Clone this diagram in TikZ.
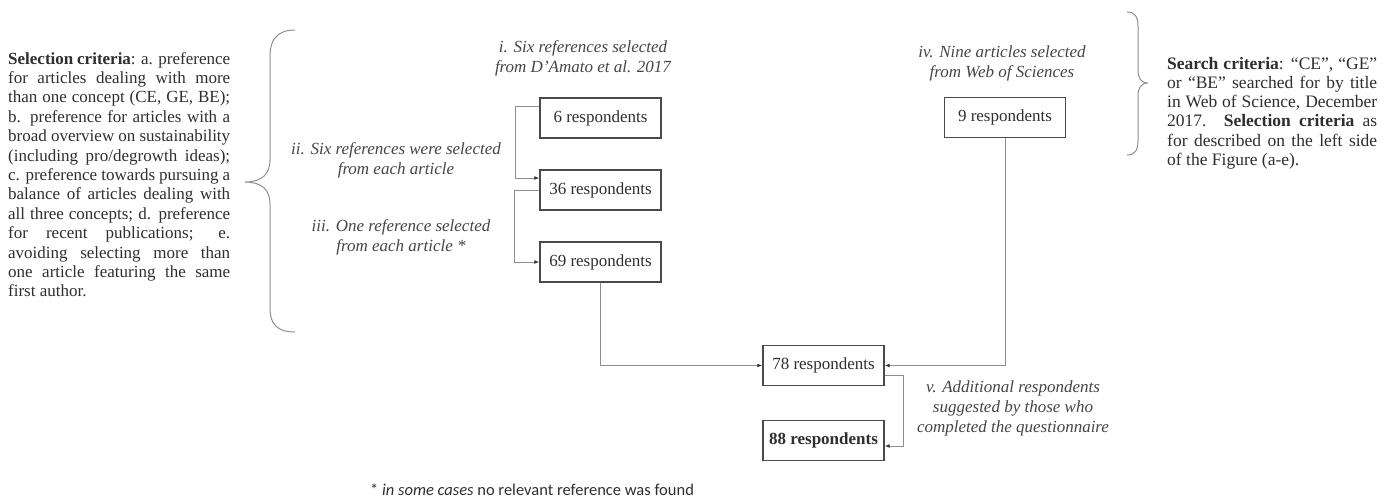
\documentclass[tikz,border=0pt]{standalone}
\usepackage{fontspec}
\setmainfont{Liberation Serif}
\newfontfamily\notefont{Carlito}
\usetikzlibrary{arrows.meta,positioning}
\definecolor{txt}{HTML}{2E2E2E}
\definecolor{lbl}{HTML}{454545}
\definecolor{ln}{HTML}{8E8E8E}
\definecolor{bx}{HTML}{4A4A4A}
\tikzset{
  box/.style={draw=bx,line width=1.3pt,minimum width=121pt,minimum height=40pt,inner sep=0pt,
    text=txt,font=\fontsize{17}{20}\selectfont},
  conn/.style={draw=ln,line width=1pt,arrows={-{Latex[length=5pt,width=4pt,color=black!80]}}},
  lab/.style={align=center,text=lbl,inner sep=0pt,font=\fontsize{17}{20}\selectfont\itshape},
  para/.style={align=left,text=txt,inner sep=0pt,font=\fontsize{17}{19.4}\selectfont},
  parb/.style={align=left,text=txt,inner sep=0pt,font=\fontsize{17.5}{19.2}\selectfont},
  brace/.style={draw=ln,line width=1pt}
}
\newcommand{\jl}[2]{\makebox[#1][s]{#2}}
\begin{document}
\begin{tikzpicture}[x=1pt,y=-1pt]
\useasboundingbox (0,0) rectangle (1384,503);
% left paragraph
\node[para,anchor=north west] (leftcrit) at (8,52) {%
\jl{222pt}{\textbf{Selection criteria}: a. preference}\\
\jl{222pt}{for articles dealing with more}\\
\jl{222pt}{than one concept (CE, GE, BE);}\\
\jl{222pt}{b. preference for articles with a}\\
\jl{222pt}{broad overview on sustainability}\\
\jl{222pt}{(including pro/degrowth ideas);}\\
\jl{222pt}{c. preference towards pursuing a}\\
\jl{222pt}{balance of articles dealing with}\\
\jl{222pt}{all three concepts; d. preference}\\
\jl{222pt}{for recent publications; e.}\\
\jl{222pt}{avoiding selecting more than}\\
\jl{222pt}{one article featuring the same}\\
first author.};
% left brace
\draw[brace] (295,30) .. controls (277,30) and (270,40) .. (270,56) -- (270,160)
  .. controls (270,174) and (262,182) .. (245,182)
  .. controls (262,182) and (270,190) .. (270,204) -- (270,308)
  .. controls (270,324) and (277,332) .. (295,332);
% right brace
\draw[brace] (1127,12) .. controls (1135,12) and (1138,17) .. (1138,26) -- (1138,70)
  .. controls (1138,78) and (1141,83) .. (1148,83)
  .. controls (1141,83) and (1138,88) .. (1138,96) -- (1138,141)
  .. controls (1138,150) and (1135,155) .. (1127,155);
% right paragraph
\node[parb,anchor=north west] (rightcrit) at (1167,57) {%
\jl{210pt}{\textbf{Search criteria}: ``CE'', ``GE''}\\
\jl{210pt}{or ``BE'' searched for by title}\\
\jl{210pt}{in Web of Science, December}\\
\jl{210pt}{2017. \textbf{Selection criteria} as}\\
\jl{210pt}{for described on the left side}\\
of the Figure (a-e).};
% labels
\node[lab] (li) at (583,58) {i. Six references selected\\from D'Amato et al. 2017};
\node[lab] (lii) at (396,160) {ii. Six references were selected\\from each article};
\node[lab] (liii) at (401,237.5) {iii. One reference selected\\from each article *};
\node[lab] (liv) at (1002,63.5) {iv. Nine articles selected\\from Web of Sciences};
\node[lab] (lv) at (1013,408.5) {v. Additional respondents\\suggested by those who\\completed the questionnaire};
% boxes
\node[box] (n6) at (600.5,118) {6 respondents};
\node[box] (n36) at (600.5,190) {36 respondents};
\node[box] (n69) at (600.5,262) {69 respondents};
\node[box] (n9) at (1005,117.5) {9 respondents};
\node[box] (n78) at (823.5,365.5) {78 respondents};
\node[box] (n88) at (823.5,440.5) {\textbf{88 respondents}};
% connectors
\draw[conn] ([yshift=12pt]n6.west) -- ++(-24,0) |- ([yshift=12pt]n36.west);
\draw[conn] (n36.west) -- ++(-25,0) |- (n69.west);
\draw[conn] (n69.south) |- (n78.west);
\draw[conn] (n9.south) |- (n78.east);
\draw[conn] ([yshift=-9.5pt]n78.east) -- ++(19,0) |- ([yshift=-5.5pt]n88.east);
% footnote
\node[anchor=west,inner sep=0pt,text=txt,font=\notefont\fontsize{16.5}{19}\selectfont] (foot) at (370,490)
  {* \textit{in some cases} no relevant reference was found};
\end{tikzpicture}
\end{document}
